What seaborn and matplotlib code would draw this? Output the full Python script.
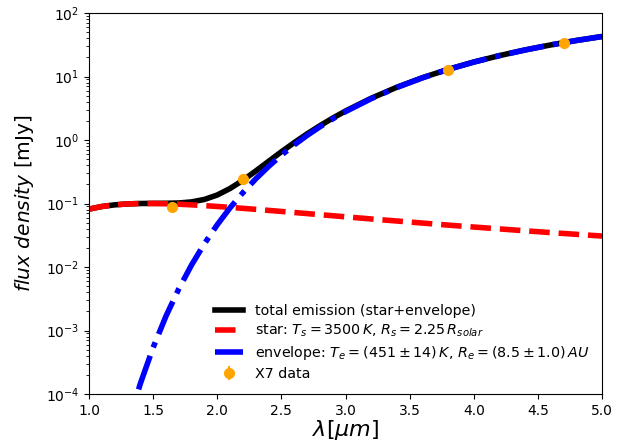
import matplotlib
matplotlib.use("Agg")
import matplotlib.pyplot as plt
import seaborn as sns
import pandas as pd

# wavelength grid [micron]
wavelength = [1.0, 1.1, 1.2, 1.3, 1.4, 1.5, 1.6, 1.7, 1.8, 1.9, 2.0, 2.1, 2.2, 2.3, 2.4,
              2.5, 2.6, 2.7, 2.8, 2.9, 3.0, 3.2, 3.4, 3.6, 3.8, 4.0, 4.2, 4.4, 4.6, 4.8, 5.0]
# star flux [mJy]
star_flux = [0.0816, 0.0897, 0.0952, 0.0985, 0.0999, 0.1000, 0.0991, 0.0974, 0.0952, 0.0926,
             0.0898, 0.0869, 0.0839, 0.0809, 0.0779, 0.0750, 0.0721, 0.0694, 0.0667, 0.0642,
             0.0617, 0.0571, 0.0530, 0.0492, 0.0457, 0.0426, 0.0398, 0.0372, 0.0348, 0.0327, 0.0307]
# envelope flux [mJy]
env_flux = [4.4e-8, 6.0e-7, 5.1e-6, 3.14e-5, 1.45e-4, 5.39e-4, 1.68e-3, 4.52e-3, 0.0108, 0.0233,
            0.0463, 0.0856, 0.148, 0.244, 0.383, 0.577, 0.837, 1.178, 1.610, 2.147,
            2.798, 4.481, 6.718, 9.528, 12.92, 16.86, 21.29, 26.16, 31.39, 36.90, 42.60]
# total flux [mJy]
total_flux = [0.0816, 0.0897, 0.0952, 0.0985, 0.1000, 0.1005, 0.1008, 0.1019, 0.1060, 0.1159,
              0.1361, 0.1725, 0.2319, 0.3249, 0.4609, 0.652, 0.909, 1.247, 1.677, 2.211,
              2.860, 4.538, 6.771, 9.577, 12.97, 16.90, 21.33, 26.20, 31.42, 36.93, 42.63]

# X7 photometry
data_wl = [1.65, 2.2, 3.8, 4.7]
data_flux = [0.0865, 0.244, 12.7, 33.9]
data_err = [0.002, 0.006, 0.3, 0.8]

labels = ["total emission (star+envelope)",
          r"star: $T_s = 3500\,K$, $R_s = 2.25\,R_{solar}$",
          r"envelope: $T_e = (451 \pm 14)\,K$, $R_e = (8.5 \pm 1.0)\,AU$",
          "X7 data"]

df = pd.DataFrame({"wl": wavelength, "star": star_flux, "env": env_flux, "total": total_flux})

fig = plt.figure(figsize=(6.34, 4.45), dpi=100)
ax = fig.add_axes([89/634, 1-394/445, (602-89)/634, (394-13)/445])

sns.lineplot(data=df, x="wl", y="total", ax=ax, color="black", lw=4, label=labels[0])
sns.lineplot(data=df, x="wl", y="star", ax=ax, color="red", lw=4, linestyle="--", label=labels[1])
sns.lineplot(data=df, x="wl", y="env", ax=ax, color="blue", lw=4, linestyle="-.", label=labels[2])
ax.errorbar(data_wl, data_flux, yerr=data_err, fmt="o", color="orange", ms=7,
            label=labels[3], zorder=5)

ax.set_yscale("log")
ax.set_xlim(1.0, 5.0)
ax.set_ylim(1e-4, 1e2)
ax.set_xlabel(r"$\lambda [\mu m]$", fontsize=16, labelpad=0)
ax.set_ylabel(r"$flux\ density$ [mJy]", fontsize=14.5, labelpad=7)
ax.tick_params(labelsize=10)

ax.legend(loc="lower right", frameon=False, fontsize=10.3, labelspacing=0.35)

fig.savefig("out.png", dpi=100)
